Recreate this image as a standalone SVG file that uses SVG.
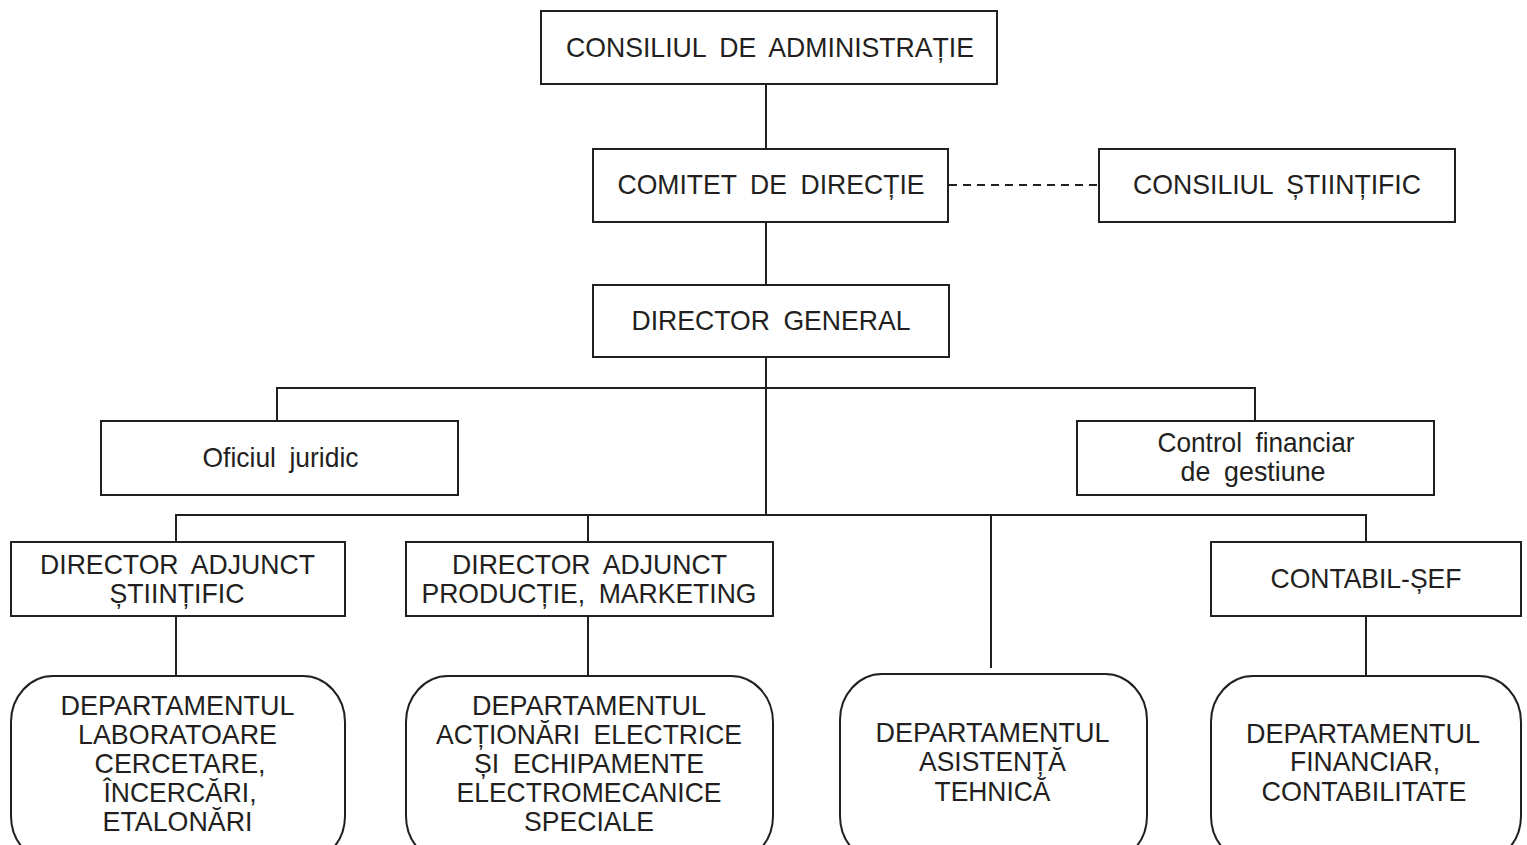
<svg xmlns="http://www.w3.org/2000/svg" width="1527" height="845" viewBox="0 0 1527 845">
<style>
.box{fill:#fff;stroke:#231f20;stroke-width:2}
.ln{fill:none;stroke:#231f20;stroke-width:2}
.dash{fill:none;stroke:#231f20;stroke-width:2;stroke-dasharray:8 6}
text{font-family:"Liberation Sans",Arial,sans-serif;font-size:28px;fill:#231f20;text-anchor:middle;word-spacing:6.5px}
</style>
<rect width="1527" height="845" fill="#fff"/>
<g id="connectors">
<line class="ln" x1="766" y1="84" x2="766" y2="149"/>
<line class="ln" x1="766" y1="222" x2="766" y2="285"/>
<line class="ln" x1="766" y1="357" x2="766" y2="515"/>
<line class="dash" x1="949" y1="185" x2="1099" y2="185"/>
<polyline class="ln" points="277,421 277,388 1255,388 1255,421"/>
<polyline class="ln" points="176,542 176,515 1366,515 1366,542"/>
<line class="ln" x1="588" y1="515" x2="588" y2="542"/>
<line class="ln" x1="991" y1="515" x2="991" y2="668"/>
<line class="ln" x1="176" y1="616" x2="176" y2="676"/>
<line class="ln" x1="588" y1="616" x2="588" y2="676"/>
<line class="ln" x1="1366" y1="616" x2="1366" y2="676"/>
</g>
<g id="consiliul-administratie">
<rect class="box" x="541" y="11" width="456" height="73"/>
<text x="770" y="57" textLength="408" lengthAdjust="spacingAndGlyphs">CONSILIUL DE ADMINISTRAȚIE</text>
</g>
<g id="comitet-directie">
<rect class="box" x="593" y="149" width="355" height="73"/>
<text x="771" y="194" textLength="307" lengthAdjust="spacingAndGlyphs">COMITET DE DIRECȚIE</text>
</g>
<g id="consiliul-stiintific">
<rect class="box" x="1099" y="149" width="356" height="73"/>
<text x="1277" y="194" textLength="288" lengthAdjust="spacingAndGlyphs">CONSILIUL ȘTIINȚIFIC</text>
</g>
<g id="director-general">
<rect class="box" x="593" y="285" width="356" height="72"/>
<text x="771" y="330" textLength="279" lengthAdjust="spacingAndGlyphs">DIRECTOR GENERAL</text>
</g>
<g id="oficiul-juridic">
<rect class="box" x="101" y="421" width="357" height="74"/>
<text x="280.5" y="467" textLength="156" lengthAdjust="spacingAndGlyphs">Oficiul juridic</text>
</g>
<g id="control-financiar">
<rect class="box" x="1077" y="421" width="357" height="74"/>
<text x="1256" y="452" textLength="197" lengthAdjust="spacingAndGlyphs">Control financiar</text>
<text x="1253" y="480.5" textLength="145" lengthAdjust="spacingAndGlyphs">de gestiune</text>
</g>
<g id="director-adjunct-stiintific">
<rect class="box" x="11" y="542" width="334" height="74"/>
<text x="177.5" y="574" textLength="275" lengthAdjust="spacingAndGlyphs">DIRECTOR ADJUNCT</text>
<text x="177" y="602.5" textLength="135" lengthAdjust="spacingAndGlyphs">ȘTIINȚIFIC</text>
</g>
<g id="director-adjunct-productie">
<rect class="box" x="406" y="542" width="367" height="74"/>
<text x="589.5" y="574" textLength="275" lengthAdjust="spacingAndGlyphs">DIRECTOR ADJUNCT</text>
<text x="589" y="602.5" textLength="335" lengthAdjust="spacingAndGlyphs">PRODUCȚIE, MARKETING</text>
</g>
<g id="contabil-sef">
<rect class="box" x="1211" y="542" width="310" height="74"/>
<text x="1366" y="588" textLength="191" lengthAdjust="spacingAndGlyphs">CONTABIL-ȘEF</text>
</g>
<g id="dep-laboratoare">
<rect class="box" x="11" y="676" width="334" height="186" rx="42" ry="46"/>
<text x="177.5" y="715" textLength="234" lengthAdjust="spacingAndGlyphs">DEPARTAMENTUL</text>
<text x="177.5" y="744" textLength="199" lengthAdjust="spacingAndGlyphs">LABORATOARE</text>
<text x="180" y="773" textLength="171" lengthAdjust="spacingAndGlyphs">CERCETARE,</text>
<text x="180" y="802" textLength="153" lengthAdjust="spacingAndGlyphs">ÎNCERCĂRI,</text>
<text x="177.5" y="831" textLength="150" lengthAdjust="spacingAndGlyphs">ETALONĂRI</text>
</g>
<g id="dep-actionari">
<rect class="box" x="406" y="676" width="367" height="186" rx="42" ry="46"/>
<text x="589" y="714.5" textLength="234" lengthAdjust="spacingAndGlyphs">DEPARTAMENTUL</text>
<text x="589" y="743.5" textLength="306" lengthAdjust="spacingAndGlyphs">ACȚIONĂRI ELECTRICE</text>
<text x="589" y="772.5" textLength="230" lengthAdjust="spacingAndGlyphs">ȘI ECHIPAMENTE</text>
<text x="589" y="802" textLength="265" lengthAdjust="spacingAndGlyphs">ELECTROMECANICE</text>
<text x="589" y="831" textLength="130" lengthAdjust="spacingAndGlyphs">SPECIALE</text>
</g>
<g id="dep-asistenta">
<rect class="box" x="840" y="674" width="307" height="188" rx="42" ry="46"/>
<text x="992.5" y="741.5" textLength="234" lengthAdjust="spacingAndGlyphs">DEPARTAMENTUL</text>
<text x="992.5" y="771" textLength="147" lengthAdjust="spacingAndGlyphs">ASISTENȚĂ</text>
<text x="992.5" y="800.5" textLength="116" lengthAdjust="spacingAndGlyphs">TEHNICĂ</text>
</g>
<g id="dep-financiar">
<rect class="box" x="1211" y="676" width="310" height="186" rx="42" ry="46"/>
<text x="1363" y="743" textLength="234" lengthAdjust="spacingAndGlyphs">DEPARTAMENTUL</text>
<text x="1365" y="771" textLength="150" lengthAdjust="spacingAndGlyphs">FINANCIAR,</text>
<text x="1364" y="800.5" textLength="205" lengthAdjust="spacingAndGlyphs">CONTABILITATE</text>
</g>
</svg>
